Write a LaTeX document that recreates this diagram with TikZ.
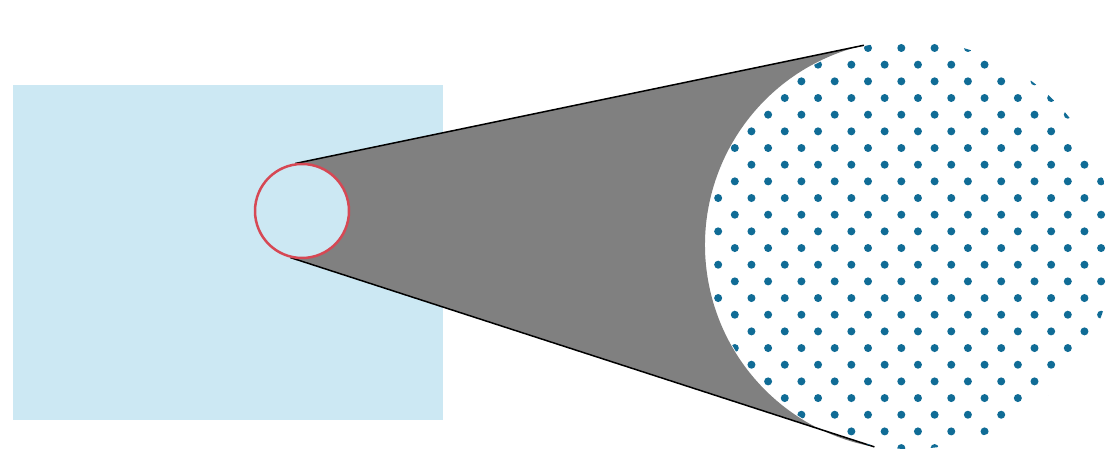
\documentclass[tikz,border=0pt]{standalone}
\usepackage{tikz}
\usetikzlibrary{positioning, calc}
\definecolor{paperblue}{RGB}{204,232,243}
\definecolor{lensred}{RGB}{214,72,84}
\definecolor{dotblue}{RGB}{16,108,150}
\definecolor{conegray}{RGB}{128,128,128}

\begin{document}
\begin{tikzpicture}[x=1pt, y=1pt]
        \fill[white] (0,0) rectangle (1116,463);
        \useasboundingbox (0,0) rectangle (1116,463);
        % лист
        \fill[paperblue] (13,43) rectangle (443,378);
        \node[circle, minimum size=96pt, inner sep=0pt, outer sep=0pt] (lens) at (302,252) {};
        \node[circle, minimum size=410pt, inner sep=0pt, outer sep=0pt] (zoom) at (910,218) {};
        % конус
        \fill[conegray] (lens.98) -- (zoom.103) arc[start angle=103, end angle=260, radius=205] -- (lens.256) -- cycle;
        \draw[line width=1.5pt] (lens.98) -- (zoom.103);
        \draw[line width=1.5pt] (lens.256) -- (zoom.260);
        \draw[lensred, line width=2.5pt, fill=paperblue] (lens.center) circle (47);
        % растр
        \begin{scope}
          \clip (zoom.center) circle (204);
          \foreach \j in {0,...,25} {
            \pgfmathsetmacro{\sh}{mod(\j,2)*16.65}
            \foreach \k in {-8,...,8}
              \fill[dotblue] ({868-\sh+33.3*\k}, {415-16.67*\j}) circle (4);
          }
        \end{scope}
      \end{tikzpicture}
\end{document}
